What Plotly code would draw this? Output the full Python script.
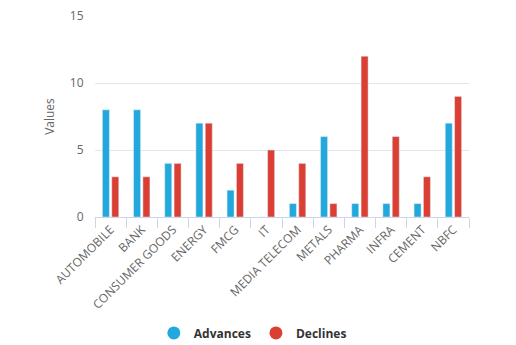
import plotly.graph_objects as go

categories = ["AUTOMOBILE", "BANK", "CONSUMER GOODS", "ENERGY", "FMCG", "IT",
              "MEDIA TELECOM", "METALS", "PHARMA", "INFRA", "CEMENT", "NBFC"]
advances = [8, 8, 4, 7, 2, 0, 1, 6, 1, 1, 1, 7]
declines = [3, 3, 4, 7, 4, 5, 4, 1, 12, 6, 3, 9]
series_names = ["Advances", "Declines"]

BLUE = "#22A8DA"
RED = "#DB3E32"
FONT = "Open Sans, DejaVu Sans, sans-serif"

fig = go.Figure()
fig.add_trace(go.Bar(x=categories, y=advances, name=series_names[0], marker_color=BLUE,
                     showlegend=False, legendgroup="a"))
fig.add_trace(go.Bar(x=categories, y=declines, name=series_names[1], marker_color=RED,
                     showlegend=False, legendgroup="d"))
# legend entries with circle symbols
fig.add_trace(go.Scatter(x=[None], y=[None], mode="markers", name=series_names[0],
                         marker=dict(color=BLUE, size=13, symbol="circle"), legendgroup="a"))
fig.add_trace(go.Scatter(x=[None], y=[None], mode="markers", name=series_names[1],
                         marker=dict(color=RED, size=13, symbol="circle"), legendgroup="d"))

fig.update_layout(
    width=516, height=345,
    margin=dict(l=95, r=47, t=16, b=128, autoexpand=False),
    paper_bgcolor="white", plot_bgcolor="white",
    barmode="group", bargap=0.4, bargroupgap=0.25,
    font=dict(family=FONT, size=11, color="#666666"),
    showlegend=True,
    legend=dict(orientation="h", x=0.49, xanchor="center", xref="container",
                y=0.035, yanchor="middle", yref="container",
                font=dict(family=FONT, size=12, color="#333333", weight="bold"),
                itemwidth=30, traceorder="normal"),
)
fig.update_xaxes(
    tickangle=-45, showline=True, linecolor="#ccd6eb", linewidth=1,
    ticks="outside", tickson="boundaries", ticklen=10, tickcolor="#ccd6eb",
    showgrid=False, tickfont=dict(size=12, color="#666666"), automargin=False,
)
fig.update_yaxes(
    range=[0, 15], tickvals=[0, 5, 10, 15], showgrid=True, gridcolor="#e6e6e6",
    zeroline=False, showline=False, ticks="outside", ticklen=8, tickcolor="rgba(0,0,0,0)",
    title=dict(text="Values", font=dict(size=12, color="#666666"), standoff=12),
    tickfont=dict(size=12, color="#666666"), automargin=False,
)

fig.write_html("out.html")
